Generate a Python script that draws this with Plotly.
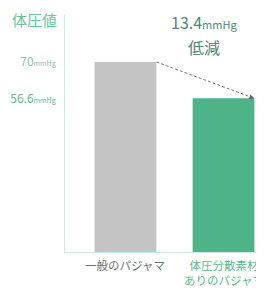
import plotly.graph_objects as go

categories = ["一般のパジャマ", "体圧分散素材<br>ありのパジャマ"]
values = [70, 56.6]
bar_colors = ["#c4c4c4", "#4fb389"]
tick_values = [70, 56.6]
tick_labels = ["70", "56.6"]
tick_colors = ["#8fbfae", "#5db88f"]
label_colors = ["#6f6f6f", "#5db88f"]
reduction = values[0] - values[1]

FONT = "Noto Sans CJK JP"
xs = [0, 1]
bw = 0.63

fig = go.Figure()
fig.add_trace(go.Bar(x=xs, y=values, width=bw, marker=dict(color=bar_colors, line=dict(width=0)),
                     hoverinfo="skip"))

ticktext = [f"<span style='color:{c}'>{t}</span><span style='font-size:7px;color:{c}'>mmHg</span>"
            for t, c in zip(tick_labels, tick_colors)]

# page body has an 8px margin, so the figure is sized 8px smaller
fig.update_layout(
    width=256, height=281,
    margin=dict(l=57, r=0, t=7, b=37, autoexpand=False),
    plot_bgcolor="white", paper_bgcolor="white",
    showlegend=False,
    font=dict(family=FONT),
    xaxis=dict(range=[-0.617, 1.413], showgrid=False, zeroline=False, showline=True, automargin=False,
               linecolor="#cde8dc", linewidth=1, showticklabels=False, ticks=""),
    yaxis=dict(range=[0, 87.3], showgrid=False, zeroline=False, showline=True, automargin=False,
               linecolor="#cde8dc", linewidth=1, tickvals=tick_values, ticktext=ticktext,
               tickfont=dict(size=12, family=FONT), ticks="", ticklabelstandoff=6),
)

# category labels
for x, lab, c in zip(xs, categories, label_colors):
    fig.add_annotation(x=x, y=0, xref="x", yref="y", text=lab, showarrow=False,
                       yanchor="top", yshift=-4, borderpad=0,
                       font=dict(size=11.5, color=c, family=FONT), align="center")

# axis title
fig.add_annotation(x=-0.035, y=1.03, xref="paper", yref="paper", text="体圧値", showarrow=False,
                   xanchor="right", yanchor="top", borderpad=0,
                   font=dict(size=15, color="#6cc39b", family=FONT))

# reduction label
fig.add_annotation(x=0.70, y=0.97, xref="paper", yref="paper",
                   text=f"{reduction:.1f}<span style='font-size:11px'>mmHg</span>", showarrow=False,
                   xanchor="center", yanchor="middle", font=dict(size=16, color="#4e8574", family=FONT))
fig.add_annotation(x=0.70, y=0.865, xref="paper", yref="paper", text="低減", showarrow=False,
                   xanchor="center", yanchor="middle", font=dict(size=16, color="#4e8574", family=FONT))

# dashed connector
fig.add_shape(type="line", xref="x", yref="y", x0=xs[0] + bw / 2, y0=values[0],
              x1=xs[1] + bw / 2, y1=values[1], line=dict(color="#777777", width=1, dash="3px,2px"))
fig.add_annotation(x=xs[1] + bw / 2, y=values[1], ax=xs[1] + bw / 2 - 0.05, ay=values[1] + 0.6,
                   xref="x", yref="y", axref="x", ayref="y", text="", showarrow=True,
                   arrowhead=2, arrowsize=1, arrowwidth=1, arrowcolor="#666666")

fig.write_html("out.html")
